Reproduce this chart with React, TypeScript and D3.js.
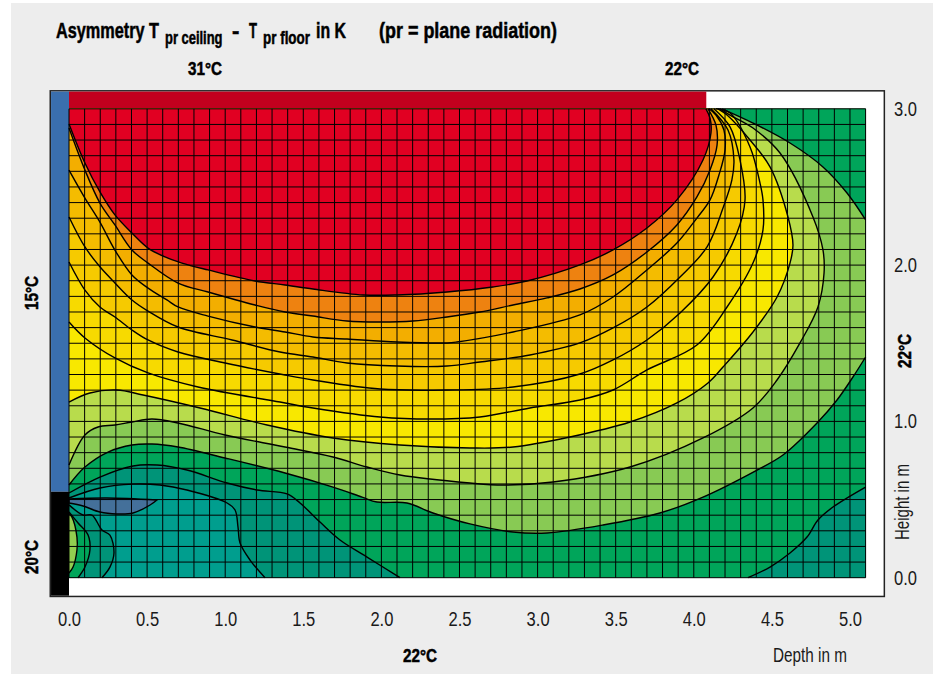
import { useEffect, useRef } from "react";
import * as d3 from "d3";

// contour lines, [depth in m, height in m]
const redEdge = [[0,2.903],[0.102,2.653],[0.198,2.468],[0.294,2.321],[0.403,2.205],[0.506,2.109],[0.615,2.052],[0.723,2.013],[0.89,1.969],[1.191,1.898],[1.383,1.873],[1.562,1.847],[1.882,1.809],[2.1,1.809],[2.42,1.828],[2.714,1.86],[2.932,1.898],[3.271,2.001],[3.483,2.097],[3.7,2.237],[3.892,2.417],[4.059,2.672],[4.11,2.845],[4.104,2.941],[4.078,3]];
const orangeEdge = [[0,2.877],[0.102,2.608],[0.198,2.397],[0.294,2.257],[0.403,2.097],[0.506,2.013],[0.698,1.885],[0.89,1.828],[1.191,1.745],[1.383,1.7],[1.562,1.674],[1.78,1.642],[1.991,1.636],[2.202,1.642],[2.42,1.668],[2.631,1.7],[2.843,1.745],[3.06,1.79],[3.271,1.847],[3.483,1.937],[3.7,2.084],[3.892,2.257],[4.02,2.436],[4.104,2.609],[4.149,2.768],[4.142,2.896],[4.091,3]];
const amberEdge = [[0,2.608],[0.102,2.429],[0.198,2.275],[0.294,2.096],[0.403,1.937],[0.506,1.853],[0.627,1.777],[0.698,1.732],[0.89,1.674],[1.191,1.604],[1.383,1.572],[1.562,1.54],[1.78,1.527],[2.1,1.508],[2.42,1.502],[2.484,1.508],[2.843,1.572],[3.271,1.681],[3.483,1.796],[3.7,1.969],[3.892,2.141],[4.02,2.301],[4.104,2.417],[4.161,2.576],[4.2,2.736],[4.193,2.864],[4.142,2.96],[4.097,3]];
const goldEdge = [[0,2.308],[0.102,2.116],[0.198,1.989],[0.294,1.886],[0.403,1.777],[0.506,1.706],[0.698,1.604],[1.044,1.521],[1.351,1.444],[1.562,1.412],[1.78,1.374],[2.1,1.354],[2.42,1.354],[2.631,1.38],[2.951,1.425],[3.271,1.502],[3.483,1.598],[3.7,1.732],[3.912,1.924],[4.085,2.116],[4.187,2.365],[4.244,2.545],[4.257,2.672],[4.219,2.864],[4.11,3]];
const deepYellowEdge = [[0,2.02],[0.102,1.84],[0.198,1.732],[0.294,1.668],[0.403,1.585],[0.506,1.521],[0.698,1.444],[0.999,1.374],[1.383,1.297],[1.562,1.265],[1.991,1.207],[2.42,1.201],[2.843,1.22],[3.271,1.303],[3.483,1.393],[3.7,1.521],[3.912,1.694],[4.123,1.924],[4.276,2.205],[4.328,2.417],[4.296,2.672],[4.232,2.884],[4.129,3]];
const yellowEdge = [[0,1.636],[0.102,1.534],[0.294,1.406],[0.506,1.31],[0.826,1.22],[1.351,1.124],[1.562,1.086],[1.991,1.028],[2.311,1.015],[2.631,1.028],[2.951,1.086],[3.271,1.137],[3.483,1.201],[3.7,1.329],[4.02,1.489],[4.213,1.732],[4.379,2.013],[4.443,2.225],[4.443,2.417],[4.424,2.525],[4.36,2.756],[4.232,2.973],[4.142,3]];
const limeEdge = [[0,1.124],[0.134,1.182],[0.307,1.201],[0.474,1.169],[0.839,1.086],[1.268,0.977],[1.69,0.894],[2.119,0.849],[2.567,0.83],[2.843,0.836],[3.207,0.9],[3.592,0.996],[3.892,1.118],[4.091,1.246],[4.187,1.348],[4.379,1.572],[4.533,1.796],[4.616,2.013],[4.635,2.129],[4.603,2.308],[4.488,2.628],[4.36,2.8],[4.213,2.96],[4.155,3]];
const leafEdge = [[0,0.721],[0.102,0.913],[0.186,0.964],[0.294,0.977],[0.403,0.996],[0.531,1.015],[0.698,0.99],[0.999,0.913],[1.383,0.836],[1.69,0.772],[1.908,0.708],[2.119,0.657],[2.567,0.606],[2.778,0.593],[3.099,0.612],[3.592,0.708],[4.059,0.894],[4.379,1.086],[4.533,1.265],[4.68,1.502],[4.795,1.732],[4.834,1.949],[4.827,2.097],[4.763,2.308],[4.552,2.717],[4.379,2.877],[4.232,2.96],[4.168,3]];
const cornerWedge = [[4.181,3],[4.379,2.909],[4.616,2.781],[4.827,2.628],[4.981,2.461],[5.1,2.289]];
const greenEdge = [[0,0.593],[0.102,0.708],[0.25,0.804],[0.403,0.849],[0.531,0.855],[0.698,0.836],[0.999,0.766],[1.383,0.67],[1.69,0.58],[1.876,0.516],[1.972,0.484],[2.164,0.478],[2.33,0.414],[2.567,0.344],[2.843,0.292],[3.06,0.286],[3.419,0.337],[3.783,0.414],[4.059,0.516],[4.405,0.689],[4.571,0.785],[4.789,0.99],[4.917,1.137],[5.019,1.284],[5.1,1.412]];
const darkTealLeft = [[0,0.542],[0.198,0.644],[0.41,0.715],[0.563,0.721],[0.755,0.689],[1.012,0.606],[1.204,0.561],[1.396,0.536],[1.479,0.478],[1.607,0.356],[1.735,0.241],[1.908,0.132],[2.119,0]];
const tealLeft = [[0,0.51],[0.198,0.574],[0.41,0.599],[0.583,0.593],[0.755,0.561],[1.012,0.478],[1.063,0.433],[1.082,0.324],[1.095,0.222],[1.159,0.113],[1.255,0]];
const darkTealRight = [[4.347,0],[4.488,0.068],[4.616,0.158],[4.725,0.26],[4.795,0.369],[4.891,0.452],[5.1,0.58]];
const lensTop = [[0,0.504],[0.243,0.51],[0.563,0.497]];
const lensBottom = [[0.563,0.497],[0.519,0.465],[0.41,0.414],[0.307,0.408],[0.198,0.42],[0.09,0.459],[0,0.478]];
const lobeOuter = [[0,0.466],[0.09,0.401],[0.147,0.401],[0.211,0.305],[0.262,0.273],[0.288,0.158],[0.262,0.068],[0.211,0]];
const lobeMiddle = [[0,0.42],[0.058,0.35],[0.122,0.273],[0.134,0.177],[0.102,0.068],[0.058,0]];
const lobeInner = [[0,0.41],[0.019,0.388],[0.051,0.26],[0.051,0.177],[0.026,0.068],[0,0.03]];

const depthTicks = [0, 0.5, 1, 1.5, 2, 2.5, 3, 3.5, 4, 4.5, 5];
const heightTicks = [0, 1, 2, 3];
const gridDepths = d3.range(0, 52).map((i) => i / 10);
const gridHeights = d3.range(0, 31).map((i) => i / 10);

const topLeft = [0, 3];
const topRight = [5.1, 3];
const bottomLeft = [0, 0];
const bottomRight = [5.1, 0];

// painted in this order, each one over the last
const layers = [
  { line: darkTealRight, close: [bottomRight], fill: "#009478" },
  { line: darkTealLeft, close: [bottomLeft], fill: "#009478" },
  { line: tealLeft, close: [bottomLeft], fill: "#009E8E" },
  { line: lobeOuter, close: [bottomLeft], fill: "#009478" },
  { line: lobeMiddle, close: [bottomLeft], fill: "#00A55A" },
  { line: lobeInner, close: [bottomLeft], fill: "#92CE50" },
  { line: greenEdge, close: [topRight, topLeft], fill: "#88CA54" },
  { line: cornerWedge, close: [topRight], fill: "#00A55A" },
  { line: leafEdge, close: [topLeft], fill: "#B8DC4C" },
  { line: limeEdge, close: [topLeft], fill: "#F8E800" },
  { line: yellowEdge, close: [topLeft], fill: "#F7DA00" },
  { line: deepYellowEdge, close: [topLeft], fill: "#F6CA00" },
  { line: goldEdge, close: [topLeft], fill: "#F4BC00" },
  { line: amberEdge, close: [topLeft], fill: "#F3AE00" },
  { line: orangeEdge, close: [topLeft], fill: "#EE8210" },
  { line: redEdge, close: [topLeft], fill: "#E10022" },
];

const font = '"Liberation Sans", sans-serif';

// the original type is condensed, so squeeze each text to its measured width
const Fit = ({ w, ...rest }) => <text textLength={w} lengthAdjust="spacingAndGlyphs" {...rest} />;
const FitSpan = ({ w, ...rest }) => <tspan textLength={w} lengthAdjust="spacingAndGlyphs" {...rest} />;

const App = () => {
  const xAxisRef = useRef<SVGGElement>(null);
  const yAxisRef = useRef<SVGGElement>(null);

  const x = d3.scaleLinear().domain([0, 5.1]).range([69, 865.6]);
  const y = d3.scaleLinear().domain([0, 3]).range([577.7, 108.8]);
  const contour = d3
    .line()
    .x((d) => x(d[0]))
    .y((d) => y(d[1]))
    .curve(d3.curveCatmullRom.alpha(0.5));

  const closed = (pts, corners) =>
    contour(pts) + corners.map((c) => `L${x(c[0])},${y(c[1])}`).join("") + "Z";
  const lens = contour(lensTop) + contour(lensBottom).replace("M", "L") + "Z";

  useEffect(() => {
    // axes, only the labels are left
    const xAxis = d3.axisBottom(x).tickValues(depthTicks).tickFormat(d3.format(".1f")).tickSize(0).tickPadding(0);
    const yAxis = d3.axisRight(y).tickValues(heightTicks).tickFormat(d3.format(".1f")).tickSize(0).tickPadding(0);
    const xg = d3.select(xAxisRef.current).call(xAxis);
    const yg = d3.select(yAxisRef.current).call(yAxis);
    xg.select(".domain").remove();
    yg.select(".domain").remove();
    [xg, yg].forEach((g) =>
      g
        .selectAll("text")
        .attr("font-family", font)
        .attr("font-size", 20)
        .attr("fill", "#1a1a1a")
        .attr("textLength", 23)
        .attr("lengthAdjust", "spacingAndGlyphs")
    );
  }, []);

  const bold = { fontFamily: font, fontWeight: 700, fill: "#000", stroke: "#000", strokeWidth: 0.5 };
  const plain = { fontFamily: font, fill: "#1a1a1a" };

  return (
    <svg width={939} height={674} style={{ position: "absolute", left: 0, top: 0, display: "block" }}>
      <rect x={11} y={3} width={922} height={671} fill="#EDEDED" />

      {/* frame, wall, window and ceiling */}
      <rect x={x(-0.12)} y={y(3.115)} width={x(5.22) - x(-0.12)} height={y(-0.12) - y(3.115)} fill="#fff" stroke="#222" strokeWidth={1.5} />
      <rect x={x(-0.115)} y={y(3.11)} width={x(0) - x(-0.115)} height={y(0.55) - y(3.11)} fill="#3A6FAE" />
      <rect x={x(-0.115)} y={y(0.55)} width={x(0) - x(-0.115)} height={y(-0.115) - y(0.55)} fill="#000" />
      <rect x={x(0)} y={y(3.11)} width={x(4.08) - x(0)} height={y(3) - y(3.11)} fill="#C2001E" />

      {/* contour fills */}
      <rect x={x(0)} y={y(3)} width={x(5.1) - x(0)} height={y(0) - y(3)} fill="#00A55A" />
      {layers.map((l, i) => (
        <path key={i} d={closed(l.line, l.close)} fill={l.fill} />
      ))}
      <path d={lens} fill="#44709A" />

      {/* room grid, 0.1 m */}
      {gridDepths.map((d) => (
        <line key={d} x1={x(d)} x2={x(d)} y1={y(0)} y2={y(3)} stroke="#000" strokeWidth={1} />
      ))}
      {gridHeights.map((h) => (
        <line key={h} x1={x(0)} x2={x(5.1)} y1={y(h)} y2={y(h)} stroke="#000" strokeWidth={1} />
      ))}

      {/* contour lines */}
      {layers.map((l, i) => (
        <path key={i} d={contour(l.line)} fill="none" stroke="#000" strokeWidth={1.4} />
      ))}
      <path d={lens} fill="none" stroke="#000" strokeWidth={1.4} />

      <g ref={xAxisRef} transform="translate(0,612)" />
      <g ref={yAxisRef} transform="translate(894,0)" />

      {/* title, one text so the subscripts stay with it */}
      <text style={bold} fontSize={22}>
        <FitSpan w={103} x={56} y={38}>Asymmetry T</FitSpan>
        <FitSpan w={57.5} x={165} y={44} fontSize={17.5}>pr ceiling</FitSpan>
        <tspan x={232} y={38}>-</tspan>
        <FitSpan w={8} x={249} y={38}>T</FitSpan>
        <FitSpan w={47} x={263} y={44} fontSize={17.5}>pr floor</FitSpan>
        <FitSpan w={30} x={316} y={38}>in K</FitSpan>
        <FitSpan w={178} x={379} y={38}>(pr = plane radiation)</FitSpan>
      </text>

      {/* surface temperatures */}
      <g style={bold} fontSize={19}>
        <Fit w={34} x={205} y={75} textAnchor="middle">31°C</Fit>
        <Fit w={34} x={682} y={75} textAnchor="middle">22°C</Fit>
        <Fit w={34} x={420} y={662} textAnchor="middle">22°C</Fit>
        <Fit w={34} transform="translate(38,293) rotate(-90)" textAnchor="middle">15°C</Fit>
        <Fit w={34} transform="translate(38,557) rotate(-90)" textAnchor="middle">20°C</Fit>
        <Fit w={34} transform="translate(911,351) rotate(-90)" textAnchor="middle">22°C</Fit>
      </g>

      <g style={plain} fontSize={20}>
        <Fit w={74} x={773} y={662}>Depth in m</Fit>
        <Fit w={76} transform="translate(909,502) rotate(-90)" textAnchor="middle">Height in m</Fit>
      </g>
    </svg>
  );
};

export default App;
